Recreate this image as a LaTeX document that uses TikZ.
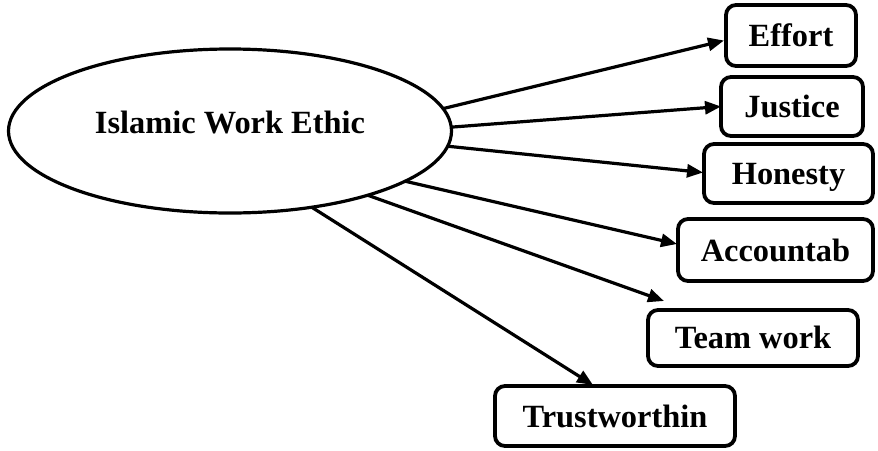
\documentclass[tikz,border=0pt]{standalone}
\usepackage{fontspec}
\setmainfont{Liberation Serif}
\usetikzlibrary{shapes.geometric,arrows.meta}
\tikzset{
  lbl/.style={font=\fontsize{16.2}{19}\selectfont\bfseries},
  rbox/.style={draw, line width=1.9pt, rounded corners=5pt, inner sep=0pt, outer sep=0pt, lbl},
  conn/.style={line width=1.6pt, -{Triangle[length=8pt,width=6.5pt]}}
}
\begin{document}
\begin{tikzpicture}[x=0.5pt,y=-0.5pt]
\useasboundingbox (0,0) rectangle (878,450);
\node[ellipse, draw, line width=1.6pt, inner sep=0pt, outer sep=0pt,
      minimum width=221.5pt, minimum height=82pt, lbl,
      text height=10pt, text depth=7.6pt] (iwe) at (230,131) {Islamic Work Ethic};
\node[rbox, minimum width=65pt, minimum height=30.5pt] (effort) at (791,35.5) {Effort};
\node[rbox, minimum width=71pt, minimum height=29.5pt] (justice) at (792,106.5) {Justice};
\node[rbox, minimum width=84.5pt, minimum height=29.5pt, text height=13pt, text depth=2pt] (honesty) at (788.5,173.5) {Honesty};
\node[rbox, minimum width=97.5pt, minimum height=31pt] (acc) at (775.5,250) {Accountab};
\node[rbox, minimum width=105pt, minimum height=28pt, text height=12.5pt, text depth=2pt] (team) at (753,338) {Team work};
\node[rbox, minimum width=120pt, minimum height=30pt] (trust) at (615,416) {Trustworthin};
\coordinate (teamin) at ([shift={(16,-9)}]team.north west);
\draw[conn] (iwe.6) -- ([shift={(-2,5)}]effort.west);
\draw[conn] (iwe.1) -- (justice.west);
\draw[conn] (iwe.-4) -- ([shift={(-1,-1)}]honesty.west);
\draw[conn] (iwe.-16.6) -- ([shift={(-1,-6)}]acc.west);
\draw[conn] (iwe.-25.9) -- (teamin);
\draw[conn] (iwe.-43.2) -- ([shift={(-22,-1)}]trust.north);
\end{tikzpicture}
\end{document}
